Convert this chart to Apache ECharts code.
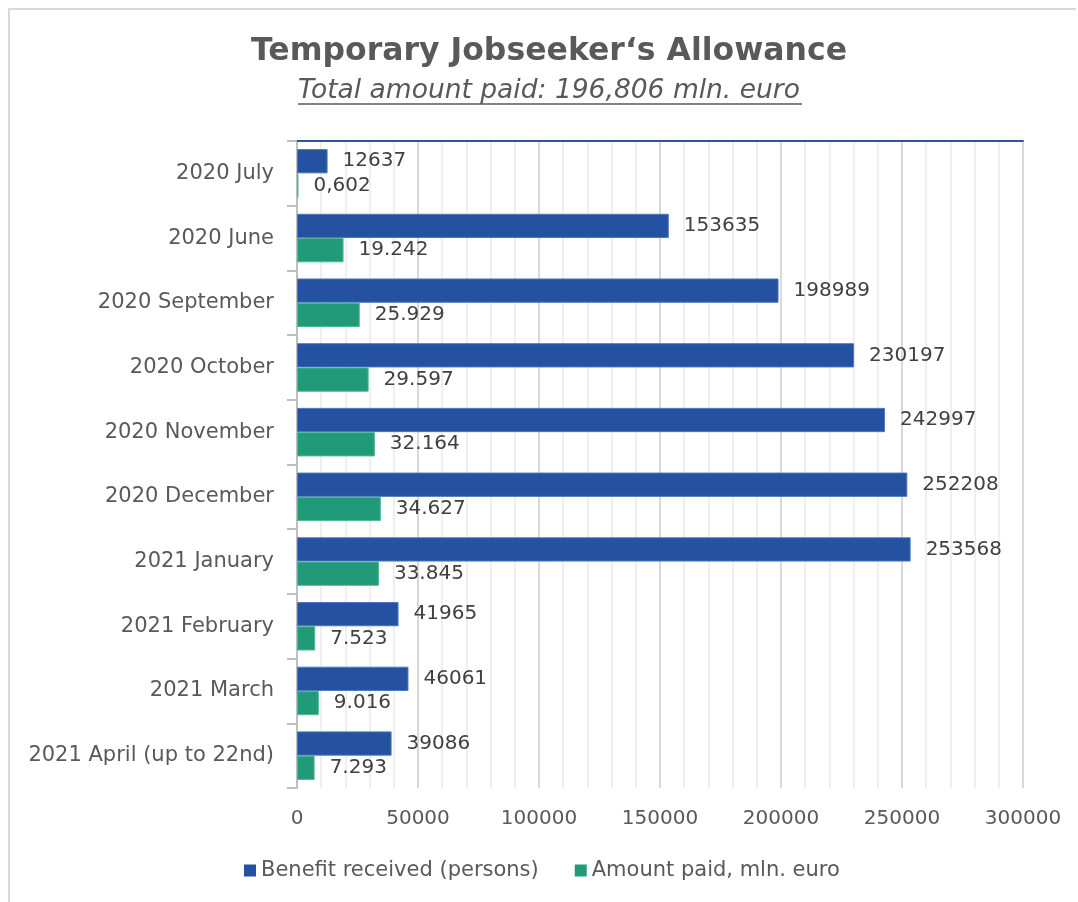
<!DOCTYPE html>
<html>
<head>
<meta charset="utf-8">
<script src="https://cdn.jsdelivr.net/npm/echarts@6/dist/echarts.min.js"></script>
<style>
html,body{margin:0;padding:0;background:#fff;}
#chart{width:1078px;height:902px;}
</style>
</head>
<body>
<div id="chart"></div>
<script>
var categories = ['2020 July','2020 June','2020 September','2020 October','2020 November','2020 December','2021 January','2021 February','2021 March','2021 April (up to 22nd)'];
var benefitReceived = [12637,153635,198989,230197,242997,252208,253568,41965,46061,39086];
var amountPaid = [0.602,19.242,25.929,29.597,32.164,34.627,33.845,7.523,9.016,7.293];
var amountLabels = ['0,602','19.242','25.929','29.597','32.164','34.627','33.845','7.523','9.016','7.293'];
var xTicks = [0,50000,100000,150000,200000,250000,300000];

var FONT = 'DejaVu Sans';
var chart = echarts.init(document.getElementById('chart'));
chart.setOption({
  backgroundColor:'#ffffff',
  animation:false,
  title:{
    text:'Temporary Jobseeker\u2018s Allowance',
    subtext:'Total amount paid: 196,806 mln. euro',
    left:544, top:31, textAlign:'center',
    itemGap:10,
    textStyle:{fontFamily:FONT,fontSize:31.5,fontWeight:'bold',color:'#595959'},
    subtextStyle:{fontFamily:FONT,fontSize:26.5,fontStyle:'italic',color:'#595959'}
  },
  legend:{
    bottom:16, left:239,
    itemWidth:12,itemHeight:12,itemGap:36,
    icon:'rect',
    itemStyle:{borderWidth:0},
    textStyle:{fontFamily:FONT,fontSize:21,color:'#595959',padding:[0,0,0,0]},
    data:['Benefit received (persons)','Amount paid, mln. euro']
  },
  grid:{left:297,right:55,top:141,bottom:114,containLabel:false},
  xAxis:[{
    type:'value', min:xTicks[0], max:xTicks[xTicks.length-1], interval:50000,
    axisLine:{show:false}, axisTick:{show:false},
    axisLabel:{fontFamily:FONT,fontSize:20,color:'#595959',margin:21,
      formatter:function(v){return String(v);}},
    splitLine:{show:true,lineStyle:{color:'#d9d9d9',width:2}},
    minorTick:{show:false,splitNumber:5},
    minorSplitLine:{show:true,lineStyle:{color:'#efefef',width:2}}
  },{
    type:'value', position:'top', min:xTicks[0], max:xTicks[xTicks.length-1],
    axisLine:{show:true,lineStyle:{color:'#2f5597',width:2}},
    axisTick:{show:false}, axisLabel:{show:false}, splitLine:{show:false}
  }],
  yAxis:{
    type:'category', inverse:true, data:categories,
    axisLine:{show:true,lineStyle:{color:'#bfbfbf',width:2}},
    axisTick:{show:true,length:10,lineStyle:{color:'#bfbfbf',width:2}},
    axisLabel:{fontFamily:FONT,fontSize:21,color:'#595959',margin:23}
  },
  series:[{
    name:'Benefit received (persons)', type:'bar', xAxisIndex:0,
    data:benefitReceived,
    barCategoryGap:'25%', barGap:'0%',
    itemStyle:{color:'#2451a0',borderColor:'#4a78c0',borderWidth:1},
    label:{show:true,position:'right',distance:15,fontFamily:FONT,fontSize:20,color:'#404040'}
  },{
    name:'Amount paid, mln. euro', type:'bar', xAxisIndex:0,
    data:amountPaid.map(function(v){return v*1000;}),
    barCategoryGap:'25%', barGap:'0%',
    itemStyle:{color:'#209a78',borderColor:'#4fb596',borderWidth:1},
    label:{show:true,position:'right',distance:15,fontFamily:FONT,fontSize:20,color:'#404040',
      formatter:function(p){return amountLabels[p.dataIndex];}}
  }],
  graphic:[
    {type:'line',shape:{x1:8,y1:9,x2:1076,y2:9},style:{stroke:'#d9d9d9',lineWidth:2}},
    {type:'line',shape:{x1:9,y1:8,x2:9,y2:902},style:{stroke:'#d9d9d9',lineWidth:2}},
    {type:'line',shape:{x1:298,y1:104,x2:802,y2:104},style:{stroke:'#595959',lineWidth:1.5}}
  ]
});
</script>
</body>
</html>
